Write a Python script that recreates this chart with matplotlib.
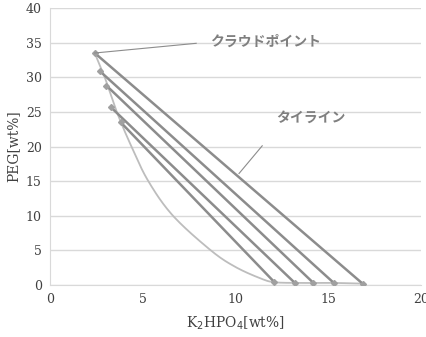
import matplotlib
matplotlib.use("Agg")
import matplotlib.pyplot as plt
import numpy as np

# Tie line end points (PEG-rich left end, salt-rich right end)
tie_left_x = [2.41, 2.68, 3.04, 3.27, 3.81]
tie_left_y = [33.5, 30.9, 28.8, 25.7, 23.5]
tie_right_x = [16.85, 15.3, 14.2, 13.2, 12.1]
tie_right_y = [0.2, 0.3, 0.3, 0.3, 0.4]

# Binodal curve points
bin_x = [2.41, 2.95, 3.6, 4.39, 5.3, 6.63, 8.67, 10.0, 11.4, 12.1, 13.2, 14.2, 15.3, 16.85]
bin_y = [33.5, 30.0, 25.0, 20.0, 15.0, 10.0, 5.0, 2.6, 0.9, 0.4, 0.3, 0.3, 0.3, 0.2]

xticks = [0, 5, 10, 15, 20]
yticks = [0, 5, 10, 15, 20, 25, 30, 35, 40]


def smooth(xs, ys, n=20):
    """Catmull-Rom curve drawn through the given points (like a smoothed line)."""
    p = np.column_stack([xs, ys]).astype(float)
    p = np.vstack([p[0], p, p[-1]])
    out = []
    t = np.linspace(0, 1, n, endpoint=False)[:, None]
    for i in range(1, len(p) - 2):
        p0, p1, p2, p3 = p[i - 1], p[i], p[i + 1], p[i + 2]
        seg = 0.5 * ((2 * p1) + (-p0 + p2) * t + (2 * p0 - 5 * p1 + 4 * p2 - p3) * t**2
                     + (-p0 + 3 * p1 - 3 * p2 + p3) * t**3)
        out.append(seg)
    out.append(p[-2][None, :])
    out = np.vstack(out)
    return out[:, 0], out[:, 1]


fig = plt.figure(figsize=(4.27, 3.37), dpi=100)
ax = fig.add_axes([50/427, 52/337, 371/427, 277/337])

sx, sy = smooth(bin_x, bin_y)
ax.plot(sx, sy, color="#bdbdbd", lw=1.3, zorder=2)
for lx, ly, rx, ry in zip(tie_left_x, tie_left_y, tie_right_x, tie_right_y):
    ax.plot([lx, rx], [ly, ry], color="#8c8c8c", lw=1.8, marker="D",
            markersize=3, markerfacecolor="#a0a0a0", markeredgecolor="#a0a0a0", zorder=3)

ax.set_xlim(0, 20)
ax.set_ylim(0, 40)
ax.set_xticks(xticks)
ax.set_yticks(yticks)
ax.yaxis.grid(True, color="#d9d9d9", lw=1)
ax.set_axisbelow(True)
for s in ["right", "top"]:
    ax.spines[s].set_visible(False)
ax.spines["left"].set_color("#d9d9d9")
ax.spines["bottom"].set_color("#d9d9d9")
ax.tick_params(length=0, labelsize=9, labelcolor="#404040", pad=6)
for lab in ax.get_xticklabels() + ax.get_yticklabels():
    lab.set_family("DejaVu Serif")

ax.set_xlabel(r"K$_2$HPO$_4$[wt%]", family="DejaVu Serif", fontsize=10, color="#404040", labelpad=6)
ax.set_ylabel("PEG[wt%]", family="DejaVu Serif", fontsize=10, color="#404040", labelpad=4)

jp = ["Noto Sans CJK JP", "DejaVu Sans"]
ax.plot([2.41, 7.88], [33.5, 34.9], color="#8c8c8c", lw=0.8, zorder=4)
ax.text(8.63, 35.1, "クラウドポイント", family=jp, fontweight="bold", fontsize=10,
        color="#7f7f7f", va="center", ha="left")
ax.plot([11.44, 10.19], [20.1, 16.1], color="#8c8c8c", lw=0.8, zorder=4)
ax.text(12.17, 24.1, "タイライン", family=jp, fontweight="bold", fontsize=10,
        color="#7f7f7f", va="center", ha="left")

fig.savefig("out.png", dpi=100)
